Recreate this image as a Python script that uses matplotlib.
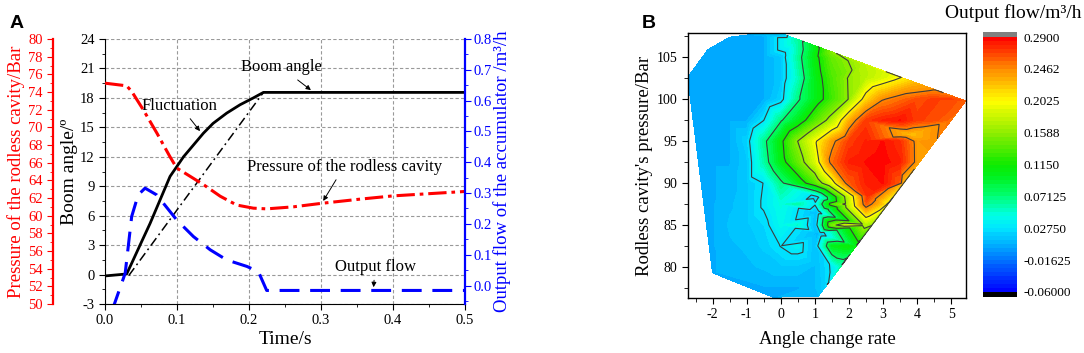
import numpy as np
import matplotlib
matplotlib.use("Agg")
import matplotlib.pyplot as plt
import matplotlib.tri as mtri
from matplotlib.colors import LinearSegmentedColormap

plt.rcParams['font.family'] = ['Liberation Serif', 'DejaVu Serif']
plt.rcParams['axes.unicode_minus'] = False

# ---- panel A data ----
time_angle = [0.0, 0.030, 0.037, 0.0486, 0.0625, 0.0764, 0.0903, 0.109, 0.1366, 0.150, 0.169, 0.1875, 0.206, 0.220, 0.5]
boom_angle = [-0.14, 0.06, 1.15, 3.0, 5.2, 7.6, 10.0, 12.0, 14.4, 15.4, 16.45, 17.3, 18.0, 18.56, 18.56]

time_ideal = [0.033, 0.220]
angle_ideal = [-0.1, 18.56]

time_press = [0.0, 0.030, 0.037, 0.053, 0.072, 0.090, 0.0995, 0.137, 0.160, 0.183, 0.206, 0.2245, 0.2616, 0.301, 0.354, 0.400, 0.5]
pressure = [75.0, 74.7, 74.07, 72.0, 69.35, 66.7, 65.4, 63.5, 62.2, 61.2, 60.85, 60.77, 61.0, 61.4, 61.87, 62.24, 62.74]

time_flow = [0.010, 0.028, 0.037, 0.046, 0.0556, 0.0718, 0.0995, 0.1227, 0.146, 0.169, 0.197, 0.213, 0.2245, 0.5]
flow = [-0.08, 0.04, 0.224, 0.294, 0.316, 0.294, 0.213, 0.159, 0.116, 0.083, 0.062, 0.045, -0.016, -0.016]

# ---- panel B data ----
nan = np.nan
rate_cols = [-2.5, -2.0, -1.5, -1.0, -0.5, 0.0, 0.5, 1.0, 1.5, 2.0, 2.5, 3.0, 3.5, 4.0, 4.5, 5.0]
press_rows = [107.5, 105.0, 102.5, 100.0, 97.5, 95.0, 92.5, 90.0, 87.5, 85.0, 82.5, 80.0, 77.5]
flow_grid = [
    [nan, nan, nan, .005, .005, .008, nan, nan, nan, nan, nan, nan, nan, nan, nan, nan],
    [nan, .005, .005, .005, .005, .015, .061, .106, .144, nan, nan, nan, nan, nan, nan, nan],
    [.005, .005, .005, .005, .005, .015, .053, .100, .135, .161, .174, .188, nan, nan, nan, nan],
    [.005, .005, .005, .005, .005, .020, .067, .100, .130, .160, .215, .245, .255, .265, .270, .270],
    [.005, .005, .005, .005, .027, .068, .098, .135, .170, .230, .270, .280, .285, .270, .265, nan],
    [nan, .005, .005, .020, .064, .108, .159, .198, .240, .270, .280, .285, .275, .240, nan, nan],
    [nan, .005, .005, .015, .058, .103, .143, .185, .255, .280, .285, .288, .280, nan, nan, nan],
    [nan, .005, .008, .015, .028, .066, .097, .135, .190, .260, .280, .285, .260, nan, nan, nan],
    [nan, .005, .010, .015, .030, .045, .060, .030, .130, .175, .260, .220, nan, nan, nan, nan],
    [nan, .005, .012, .015, .022, .040, .050, .010, .150, .185, .170, nan, nan, nan, nan, nan],
    [nan, .005, .010, .012, .018, .028, .035, .012, .100, .110, nan, nan, nan, nan, nan, nan],
    [nan, .005, .008, .010, .012, .015, .015, .010, .030, nan, nan, nan, nan, nan, nan, nan],
    [nan, nan, nan, nan, .005, .005, .005, .010, nan, nan, nan, nan, nan, nan, nan, nan],
]

# boundary of the measured region and a few extra detail points
edge_rate = [0.12, 0.5, 1.0, 1.5, 2.0, 2.5, 3.0, 3.5, 4.0, 4.5, 5.0, 5.43,
             5.0, 4.54, 4.07, 3.61, 3.14, 2.68, 2.21, 1.75, 1.29, 1.1,
             -0.23, -2.0, -2.73, -2.14, -1.5, -0.9,
             1.07, 1.05, 1.10, 2.55, 3.8]
edge_press = [107.7, 107.13, 106.39, 105.65, 104.9, 104.16, 103.41, 102.67, 101.93, 101.18, 100.44, 99.8,
              97.5, 95.0, 92.5, 90.0, 87.5, 85.0, 82.5, 80.0, 77.5, 76.5,
              76.4, 79.3, 102.6, 105.9, 107.4, 107.7,
              88.3, 86.5, 84.0, 88.5, 95.8]
edge_flow = [.02, .06, .10, .155, .165, .175, .185, .20, .23, .245, .255, .26,
             .255, .245, .235, .225, .20, .16, .10, .05, .02, .01,
             .005, .005, .005, .005, .005, .005,
             .02, .01, .008, .275, .225]

cbar_ticks = [-0.06, -0.01625, 0.0275, 0.07125, 0.115, 0.15875, 0.2025, 0.24625, 0.29]
cbar_labels = ['-0.06000', '-0.01625', '0.02750', '0.07125', '0.1150', '0.1588', '0.2025', '0.2462', '0.2900']

fig = plt.figure(figsize=(10.84, 3.53), dpi=100)

# ================= panel A =================
ax = fig.add_axes([0.0969, 0.1388, 0.3321, 0.7507])
ax_p = ax.twinx()
ax_f = ax.twinx()

ax.set_xlim(0, 0.5)
ax.set_ylim(-3, 24)
ax.set_xticks(np.arange(0, 0.51, 0.1))
ax.set_xticks(np.arange(0.05, 0.5, 0.1), minor=True)
ax.set_yticks(np.arange(-3, 25, 3))
ax.set_yticks(np.arange(-1.5, 24, 3), minor=True)
ax.set_xticklabels(['0.0', '0.1', '0.2', '0.3', '0.4', '0.5'])
ax.grid(True, which='major', color='#999999', linestyle=(0, (3, 2)), linewidth=0.8)
ax.spines['top'].set_visible(False)
ax.spines['right'].set_visible(False)
ax.tick_params(which='both', direction='out', labelsize=10.5, top=False, right=False)
ax.tick_params(which='major', length=4)
ax.tick_params(which='minor', length=2.5)
ax.set_xlabel('Time/s', fontsize=14)
ax.xaxis.set_label_coords(0.5, -0.10)
ax.set_ylabel('Boom angle/º', fontsize=14)
ax.yaxis.set_label_coords(-0.075, 0.5)

ax.plot(time_angle, boom_angle, color='black', lw=2.0, zorder=5)
ax.plot(time_ideal, angle_ideal, color='black', lw=1.1, linestyle=(0, (6, 2.5, 1.2, 2.5)), zorder=5)

# red pressure axis (offset left)
ax_p.set_ylim(50, 80)
ax_p.yaxis.set_ticks_position('left')
ax_p.yaxis.set_label_position('left')
ax_p.spines['left'].set_position(('axes', -52 / 360))
ax_p.spines['left'].set_visible(True)
ax_p.spines['right'].set_visible(False)
ax_p.spines['top'].set_visible(False)
ax_p.spines['bottom'].set_visible(False)
ax_p.spines['left'].set_color('red')
ax_p.spines['left'].set_linewidth(1.6)
ax_p.set_yticks(np.arange(50, 81, 2))
ax_p.set_yticks(np.arange(51, 80, 2), minor=True)
ax_p.tick_params(axis='y', which='both', colors='red', direction='out', labelsize=10.5)
ax_p.tick_params(axis='y', which='major', length=4)
ax_p.tick_params(axis='y', which='minor', length=2.5)
ax_p.set_ylabel('Pressure of the rodless cavity/Bar', fontsize=13.5, color='red')
ax_p.yaxis.set_label_coords(-0.222, 0.5)
ax_p.plot(time_press, pressure, color='red', lw=2.2,
          linestyle=(0, (6, 1.6, 1.2, 1.6)), zorder=4)

# blue flow axis (right)
ax_f.set_ylim(-0.06, 0.8)
ax_f.spines['right'].set_color('blue')
ax_f.spines['right'].set_linewidth(1.6)
ax_f.spines['top'].set_visible(False)
ax_f.spines['left'].set_visible(False)
ax_f.spines['bottom'].set_visible(False)
ax_f.set_yticks(np.arange(0, 0.81, 0.1))
ax_f.set_yticks(np.arange(-0.05, 0.8, 0.05), minor=True)
ax_f.set_yticklabels(['0.0', '0.1', '0.2', '0.3', '0.4', '0.5', '0.6', '0.7', '0.8'])
ax_f.tick_params(axis='y', which='both', colors='blue', direction='out', labelsize=10.5, pad=2)
ax_f.tick_params(axis='y', which='major', length=4)
ax_f.tick_params(axis='y', which='minor', length=2.5)
ax_f.set_ylabel('Output flow of the accumulator /m³/h', fontsize=13.5, color='blue')
ax_f.yaxis.set_label_coords(1.078, 0.5)
ax_f.plot(time_flow, flow, color='blue', lw=2.2, linestyle=(0, (6.5, 3.5)), zorder=4)

# annotations (placed in boom-angle coordinates)
arrow = dict(arrowstyle='-|>', color='black', lw=0.7, mutation_scale=7)
tr = ax.transData
ax_f.annotate('Boom angle', xy=(0.289, 18.62), xycoords=tr, xytext=(0.245, 21.1), textcoords=tr,
              ha='center', va='center', fontsize=12, arrowprops=arrow)
ax_f.annotate('Fluctuation', xy=(0.1343, 14.39), xycoords=tr, xytext=(0.104, 17.2), textcoords=tr,
              ha='center', va='center', fontsize=12, arrowprops=arrow)
ax_f.annotate('Pressure of the rodless cavity', xy=(0.301, 7.26), xycoords=tr, xytext=(0.332, 11.0),
              textcoords=tr, ha='center', va='center', fontsize=12, arrowprops=arrow)
ax_f.annotate('Output flow', xy=(0.3727, -1.57), xycoords=tr, xytext=(0.375, 0.8), textcoords=tr,
              ha='center', va='center', fontsize=12, arrowprops=arrow)

fig.text(10 / 1084, 1 - 23 / 353, 'A', family='Liberation Sans', fontweight='bold', fontsize=14,
         ha='left', va='center')

# ================= panel B =================
gx, gy = np.meshgrid(rate_cols, press_rows)
gz = np.array(flow_grid)
ok = ~np.isnan(gz)
px = np.concatenate([gx[ok], edge_rate])
py = np.concatenate([gy[ok], edge_press])
pz = np.concatenate([gz[ok], edge_flow])
tri = mtri.Triangulation(px, py)

cmap = LinearSegmentedColormap.from_list('origin_rainbow', [
    (0.00, (0.0, 0.0, 1.0)),
    (0.125, (0.0, 0.45, 1.0)),
    (0.19, (0.0, 0.70, 1.0)),
    (0.25, (0.0, 0.90, 1.0)),
    (0.30, (0.0, 1.0, 0.90)),
    (0.375, (0.0, 1.0, 0.45)),
    (0.45, (0.0, 0.95, 0.12)),
    (0.50, (0.05, 0.92, 0.0)),
    (0.625, (0.55, 0.93, 0.0)),
    (0.75, (1.0, 1.0, 0.0)),
    (0.875, (1.0, 0.55, 0.0)),
    (1.00, (1.0, 0.0, 0.0)),
])
cmap.set_under('black')
cmap.set_over('#808080')

bx = fig.add_axes([0.6347, 0.1558, 0.2565, 0.7507])
levels = np.linspace(-0.06, 0.29, 65)
cf = bx.tricontourf(tri, pz, levels=levels, cmap=cmap, extend='both')
bx.tricontour(tri, pz, levels=cbar_ticks[2:8], colors='#3c3c3c', linewidths=0.8)
bx.set_xlim(-2.72, 5.44)
bx.set_ylim(76.3, 107.9)
bx.set_xticks(np.arange(-2, 6, 1))
bx.set_xticks(np.arange(-2.5, 5.5, 0.5), minor=True)
bx.set_yticks(np.arange(80, 106, 5))
bx.set_yticks(np.arange(77.5, 108, 2.5), minor=True)
bx.tick_params(which='both', direction='out', labelsize=10)
bx.tick_params(which='major', length=4)
bx.tick_params(which='minor', length=3)
for s in bx.spines.values():
    s.set_linewidth(1.0)
bx.set_xlabel('Angle change rate', fontsize=13.5)
bx.xaxis.set_label_coords(0.5, -0.125)
bx.set_ylabel("Rodless cavity's pressure/Bar", fontsize=13.5)
bx.yaxis.set_label_coords(-0.125, 0.5)

cax = fig.add_axes([0.9068, 0.1586, 0.0314, 0.7507])
cb = fig.colorbar(cf, cax=cax, extendrect=True, extendfrac=0.02, ticks=cbar_ticks)
cb.set_ticklabels(cbar_labels)
cb.outline.set_visible(False)
cax.tick_params(length=0, labelsize=9.5, pad=5)

fig.text(1013 / 1084, 1 - 13 / 353, 'Output flow/m³/h', fontsize=14, ha='center', va='center')
fig.text(642 / 1084, 1 - 23 / 353, 'B', family='Liberation Sans', fontweight='bold', fontsize=14,
         ha='left', va='center')

fig.savefig('out.png', dpi=100)
